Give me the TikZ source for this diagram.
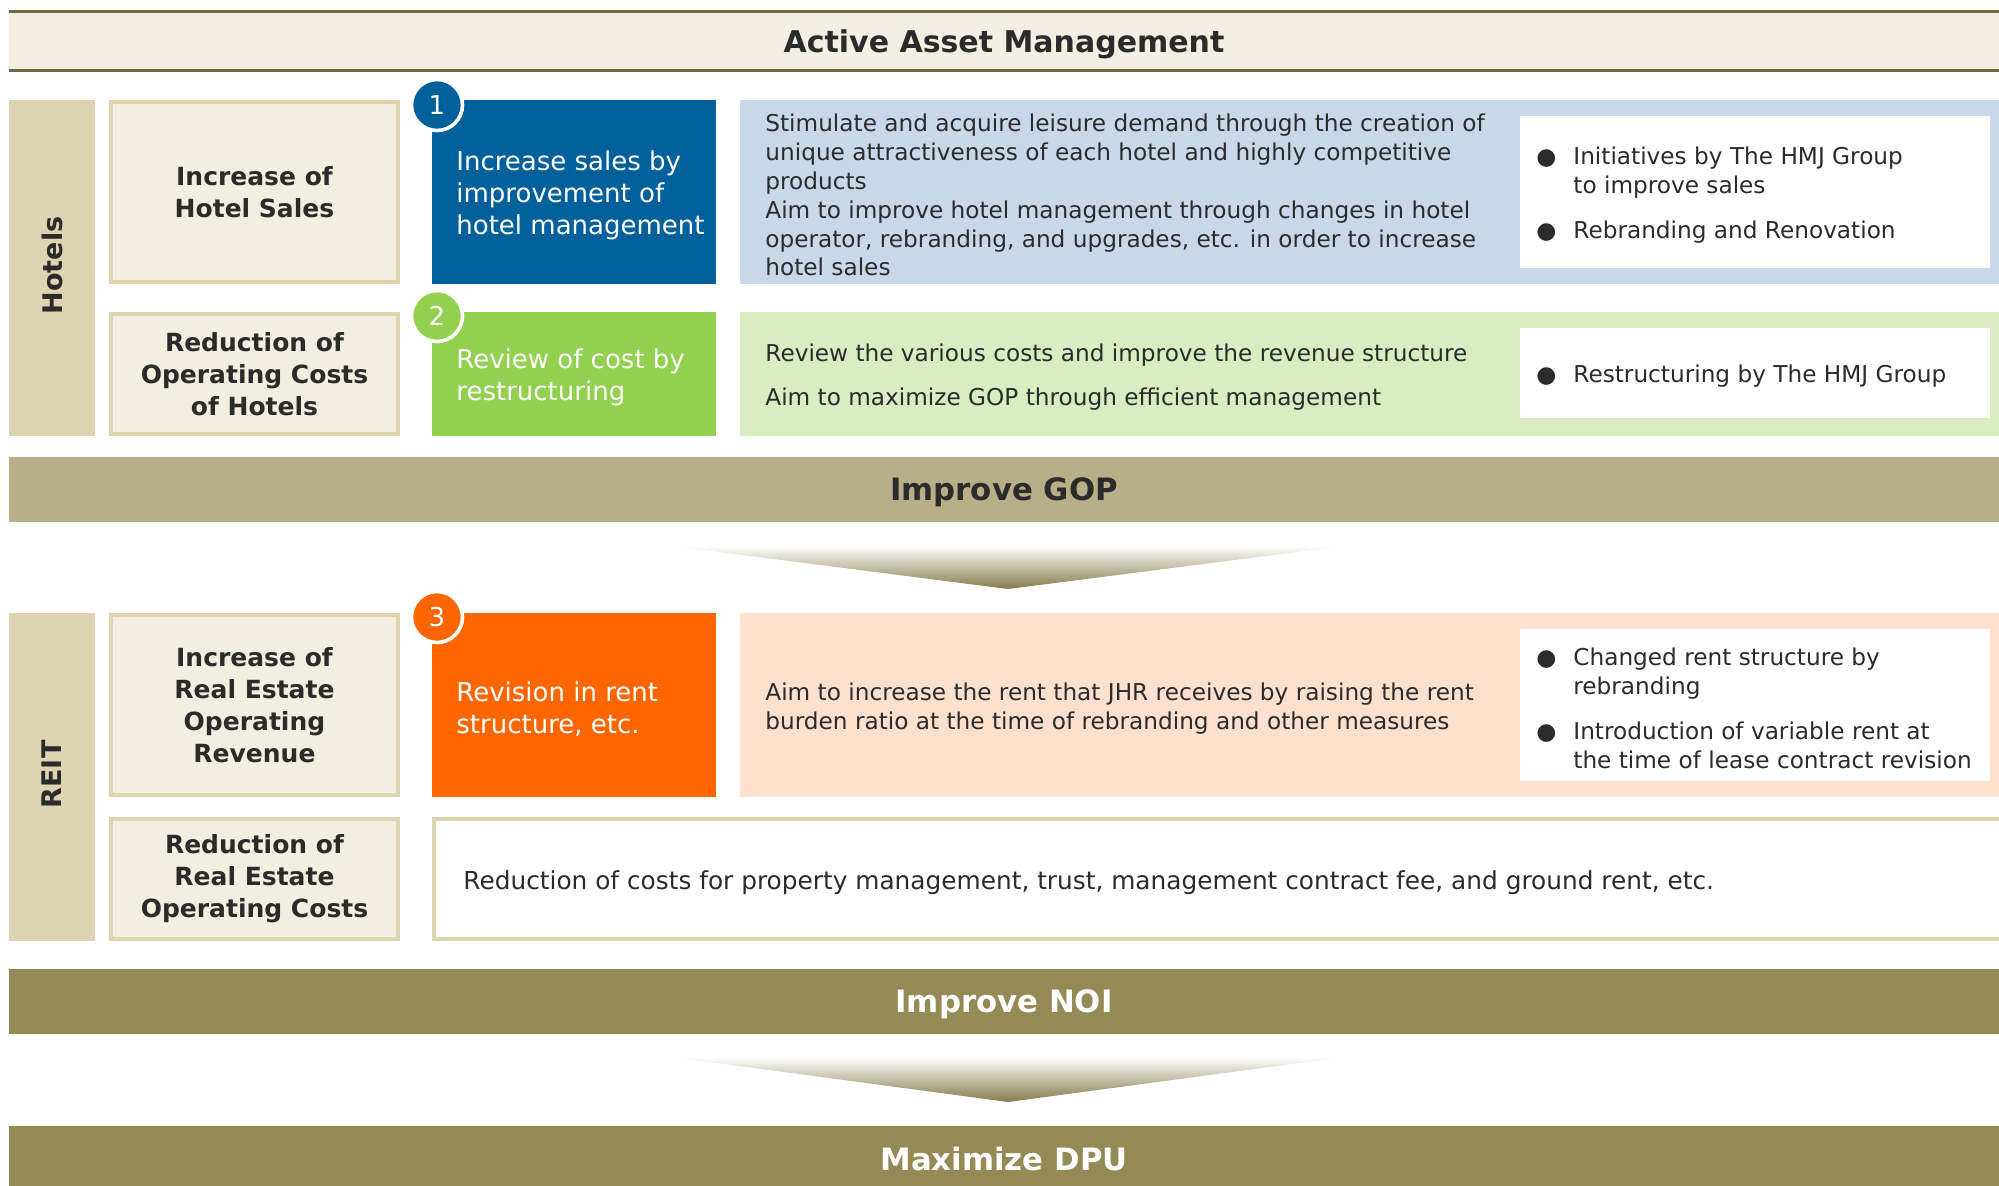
\documentclass[tikz,border=0pt]{standalone}
\usepackage{fontspec}
\setmainfont{DejaVu Sans}
\usepackage{xcolor}
\usetikzlibrary{positioning}

\definecolor{ink}{HTML}{2B2B2B}
\definecolor{hdrc}{HTML}{F3F0E3}
\definecolor{hlinec}{HTML}{6E6645}
\definecolor{tanc}{HTML}{DED4B1}
\definecolor{creamc}{HTML}{F2EEE0}
\definecolor{bluec}{HTML}{00609C}
\definecolor{lbluec}{HTML}{C8D7EA}
\definecolor{greenc}{HTML}{92D050}
\definecolor{lgreenc}{HTML}{D8EDC1}
\definecolor{orangec}{HTML}{FF6600}
\definecolor{peachc}{HTML}{FDE0CE}
\definecolor{gopc}{HTML}{B8AF88}
\definecolor{olivec}{HTML}{958A55}
\definecolor{arrowc}{HTML}{857B4B}

\newcommand\bodyf{\fontsize{11.6}{14.4}\selectfont}
\newcommand\boxf{\fontsize{13}{16}\selectfont}
\newcommand\tanf{\fontsize{12.5}{16}\selectfont\bfseries}
\newcommand\bandf{\fontsize{15.4}{18}\selectfont\bfseries}
\newcommand\bul{\makebox[18.5pt][l]{\fontsize{11.5}{11.5}\selectfont ●}}
\newcommand\ind{\hspace*{18.5pt}}

\tikzset{
  box/.style={anchor=north west, inner sep=0pt, outer sep=0pt},
  tanbox/.style={box, draw=tanc, line width=2pt, fill=creamc, minimum width=143.5pt, align=center, text=ink, font=\tanf},
  side/.style={box, fill=tanc, minimum width=43pt},
  colbox/.style={box, minimum width=142pt},
  litebox/.style={box, minimum width=629.5pt},
  whitebox/.style={box, fill=white, minimum width=235pt},
  band/.style={box, minimum width=995pt, minimum height=32.5pt, font=\bandf, text depth=0pt},
  numc/.style={circle, draw=white, line width=1.8pt, minimum size=25.5pt, inner sep=0pt, text=white, font=\boxf},
  wtxt/.style={text=white, font=\boxf, align=left, inner sep=0pt, yshift=-1.9pt},
  btxt/.style={text=ink, font=\bodyf, align=left, inner sep=0pt, yshift=-1.6pt},
  sidetxt/.style={rotate=90, font=\fontsize{13.5}{16}\selectfont\bfseries, text=ink, xshift=1.3pt},
}

\begin{document}
\begin{tikzpicture}[x=1pt, y=-1pt]
\useasboundingbox (0,0) rectangle (999.5,592.5);

% header
\node[box, fill=hdrc, minimum width=995pt, minimum height=29.6pt, font=\fontsize{15}{18}\selectfont\bfseries, text=ink, text depth=0pt] (hdr) at (4.5,5.65) {Active Asset Management};
\draw[hlinec, line width=1.6pt] (hdr.north west) -- (hdr.north east);
\draw[hlinec, line width=1.6pt] (hdr.south west) -- (hdr.south east);

% Hotels
\node[side, minimum height=168pt] (hotels) at (4.5,50) {};
\node[sidetxt] (hotelst) at (hotels.center) {Hotels};

\node[tanbox, minimum height=90pt] (hsales) at (55.5,51) {Increase of\\Hotel Sales};
\node[tanbox, minimum height=60pt] (hcost) at (55.5,157) {Reduction of\\Operating Costs\\of Hotels};

\node[colbox, fill=bluec, minimum height=92pt] (sales) at (216,50) {};
\node[wtxt, right=12pt of sales.west] (salest) {Increase sales by\\improvement of\\hotel management};
\node[numc, fill=bluec] (n1) at (218.5,52.5) {1};

\node[colbox, fill=greenc, minimum height=62pt] (restr) at (216,156) {};
\node[wtxt, right=12pt of restr.west] (restrt) {Review of cost by\\restructuring};
\node[numc, fill=greenc] (n2) at (218.5,158) {2};

\node[litebox, fill=lbluec, minimum height=92pt] (lsales) at (370,50) {};
\node[btxt, right=12.5pt of lsales.west] (lsalest) {Stimulate and acquire leisure demand through the creation of\\
unique attractiveness of each hotel and highly competitive\\
products\\
Aim to improve hotel management through changes in hotel\\
operator, rebranding, and upgrades, etc. in order to increase\\
hotel sales};
\node[whitebox, minimum height=76pt] (wsales) at (760,58) {};
\node[btxt, right=8pt of wsales.west] (wsalest) {\bul Initiatives by The HMJ Group\\
\ind to improve sales\\[8pt]
\bul Rebranding and Renovation};

\node[litebox, fill=lgreenc, minimum height=62pt] (lrestr) at (370,156) {};
\node[btxt, right=12.5pt of lrestr.west] (lrestrt) {Review the various costs and improve the revenue structure\\[7.6pt]
Aim to maximize GOP through efficient management};
\node[whitebox, minimum height=45pt] (wrestr) at (760,164) {};
\node[btxt, right=8pt of wrestr.west] (wrestrt) {\bul Restructuring by The HMJ Group};

% Improve GOP
\node[band, fill=gopc, text=ink] (gop) at (4.5,228.5) {Improve GOP};
\shade[top color=white, bottom color=arrowc] (336,273) -- (672,273) -- (504,294.5) -- cycle;

% REIT
\node[side, minimum height=164pt] (reit) at (4.5,306.5) {};
\node[sidetxt] (reitt) at (reit.center) {REIT};

\node[tanbox, minimum height=90pt] (rrev) at (55.5,307.5) {Increase of\\Real Estate\\Operating\\Revenue};
\node[tanbox, minimum height=60pt] (rcost) at (55.5,409.5) {Reduction of\\Real Estate\\Operating Costs};

\node[colbox, fill=orangec, minimum height=92pt] (rent) at (216,306.5) {};
\node[wtxt, right=12pt of rent.west] (rentt) {Revision in rent\\structure, etc.};
\node[numc, fill=orangec] (n3) at (218.5,308.5) {3};

\node[litebox, fill=peachc, minimum height=92pt] (lrent) at (370,306.5) {};
\node[btxt, right=12.5pt of lrent.west] (lrentt) {Aim to increase the rent that JHR receives by raising the rent\\
burden ratio at the time of rebranding and other measures};
\node[whitebox, minimum height=76pt] (wrent) at (760,314.5) {};
\node[btxt, right=8pt of wrent.west] (wrentt) {\bul Changed rent structure by\\
\ind rebranding\\[8pt]
\bul Introduction of variable rent at\\
\ind the time of lease contract revision};

\node[box, draw=tanc, line width=2pt, fill=white, minimum width=784pt, minimum height=60pt] (rother) at (217,409.5) {};
\node[btxt, font=\fontsize{12.4}{15}\selectfont, right=14.5pt of rother.west] (rothert) {Reduction of costs for property management, trust, management contract fee, and ground rent, etc.};

% Improve NOI / DPU
\node[band, fill=olivec, text=white] (noi) at (4.5,484.5) {Improve NOI};
\shade[top color=white, bottom color=arrowc] (336,528.5) -- (672,528.5) -- (504,551) -- cycle;
\node[band, fill=olivec, text=white] (dpu) at (4.5,563) {Maximize DPU};
\end{tikzpicture}
\end{document}
